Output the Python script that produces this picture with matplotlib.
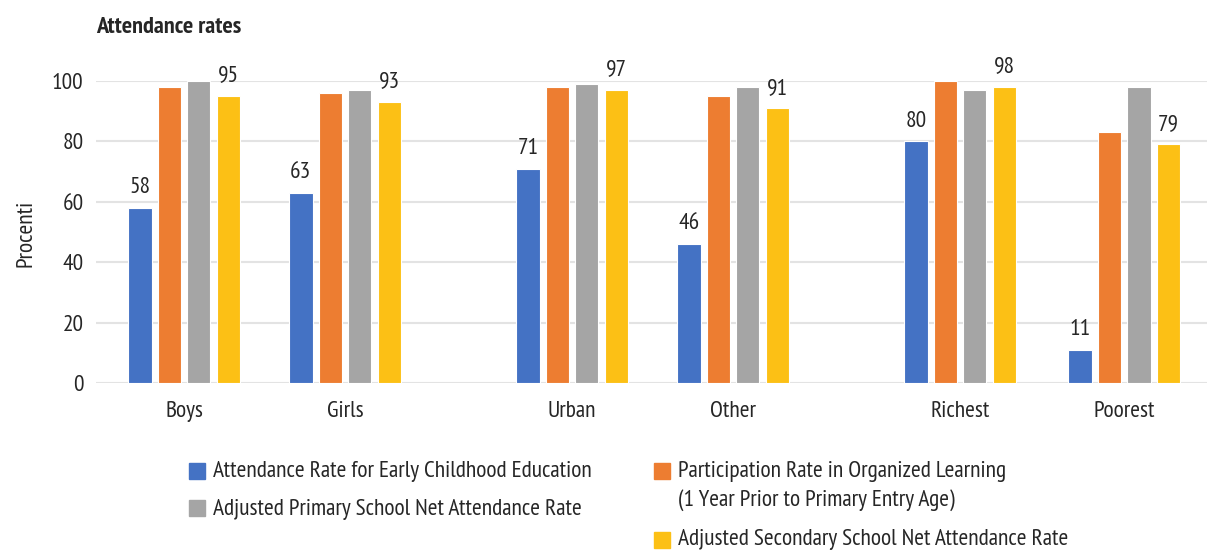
import numpy as np
import matplotlib
matplotlib.use("Agg")
import matplotlib.pyplot as plt
from matplotlib.patches import Rectangle

plt.rcParams['font.family'] = ['PT Sans Narrow', 'DejaVu Sans']
plt.rcParams['text.color'] = '#262626'

# groups and series
groups = ["Boys", "Girls", "Urban", "Other", "Richest", "Poorest"]
early_childhood = [58, 63, 71, 46, 80, 11]
organized_learning = [98, 96, 98, 95, 100, 83]
primary_nar = [100, 97, 99, 98, 97, 98]
secondary_nar = [95, 93, 97, 91, 98, 79]

series_names = [
    "Attendance Rate for Early Childhood Education",
    "Participation Rate in Organized Learning\n(1 Year Prior to Primary Entry Age)",
    "Adjusted Primary School Net Attendance Rate",
    "Adjusted Secondary School Net Attendance Rate",
]
colors = ["#4472C4", "#ED7D31", "#A5A5A5", "#FCC015"]

W, H = 1207, 550
# pairs of groups are set apart a bit further
xpos = np.array([0, 1, 2.41, 3.41, 4.82, 5.84])
width = 0.145
step = 0.183
fs = 16.8

fig = plt.figure(figsize=(W / 100, H / 100), dpi=100)
ax = fig.add_axes([96 / W, 1 - 383 / H, 1 - 96 / W, 302 / H])

all_series = [early_childhood, organized_learning, primary_nar, secondary_nar]
bars = []
for i, (vals, col) in enumerate(zip(all_series, colors)):
    b = ax.bar(xpos + (i - 1.5) * step, vals, width, color=col,
               edgecolor='white', linewidth=0.8, zorder=3)
    bars.append(b)

# value labels only on the first and last series
for b, vals in [(bars[0], early_childhood), (bars[3], secondary_nar)]:
    for rect, v in zip(b, vals):
        ax.annotate(str(v), (rect.get_x() + rect.get_width() / 2, v),
                    xytext=(0, 10.5), textcoords='offset points',
                    ha='center', va='baseline', fontsize=fs, clip_on=False)

ax.set_ylim(0, 100)
ax.set_xlim(-0.547, 6.354)
ax.set_yticks(range(0, 101, 20))
ax.set_xticks(xpos)
ax.set_xticklabels(groups)
ax.tick_params(axis='both', length=0, labelsize=fs, colors='#262626')
ax.tick_params(axis='y', pad=9)
ax.tick_params(axis='x', pad=13)
ax.grid(axis='y', color='#E3E3E3', linewidth=1.5, zorder=0)
for s in ax.spines.values():
    s.set_visible(False)

fig.text(96 / W, 1 - 33 / H, "Attendance rates", fontsize=17.5,
         fontweight='bold', ha='left', va='baseline')
fig.text(26 / W, 1 - 233 / H, "Procenti", fontsize=fs,
         rotation=90, ha='center', va='center')

# legend: colour square and label, two columns
legend_items = [
    (0, 189, 463, [477]),
    (2, 189, 500, [515]),
    (1, 654, 463, [477, 506]),
    (3, 654, 532, [545]),
]
for idx, x, y_top, baselines in legend_items:
    fig.patches.append(Rectangle((x / W, 1 - (y_top + 16) / H), 16 / W, 16 / H,
                                 transform=fig.transFigure, color=colors[idx]))
    for line, yb in zip(series_names[idx].split("\n"), baselines):
        fig.text((x + 24) / W, 1 - yb / H, line, fontsize=fs,
                 ha='left', va='baseline')

fig.savefig("out.png", dpi=100)
